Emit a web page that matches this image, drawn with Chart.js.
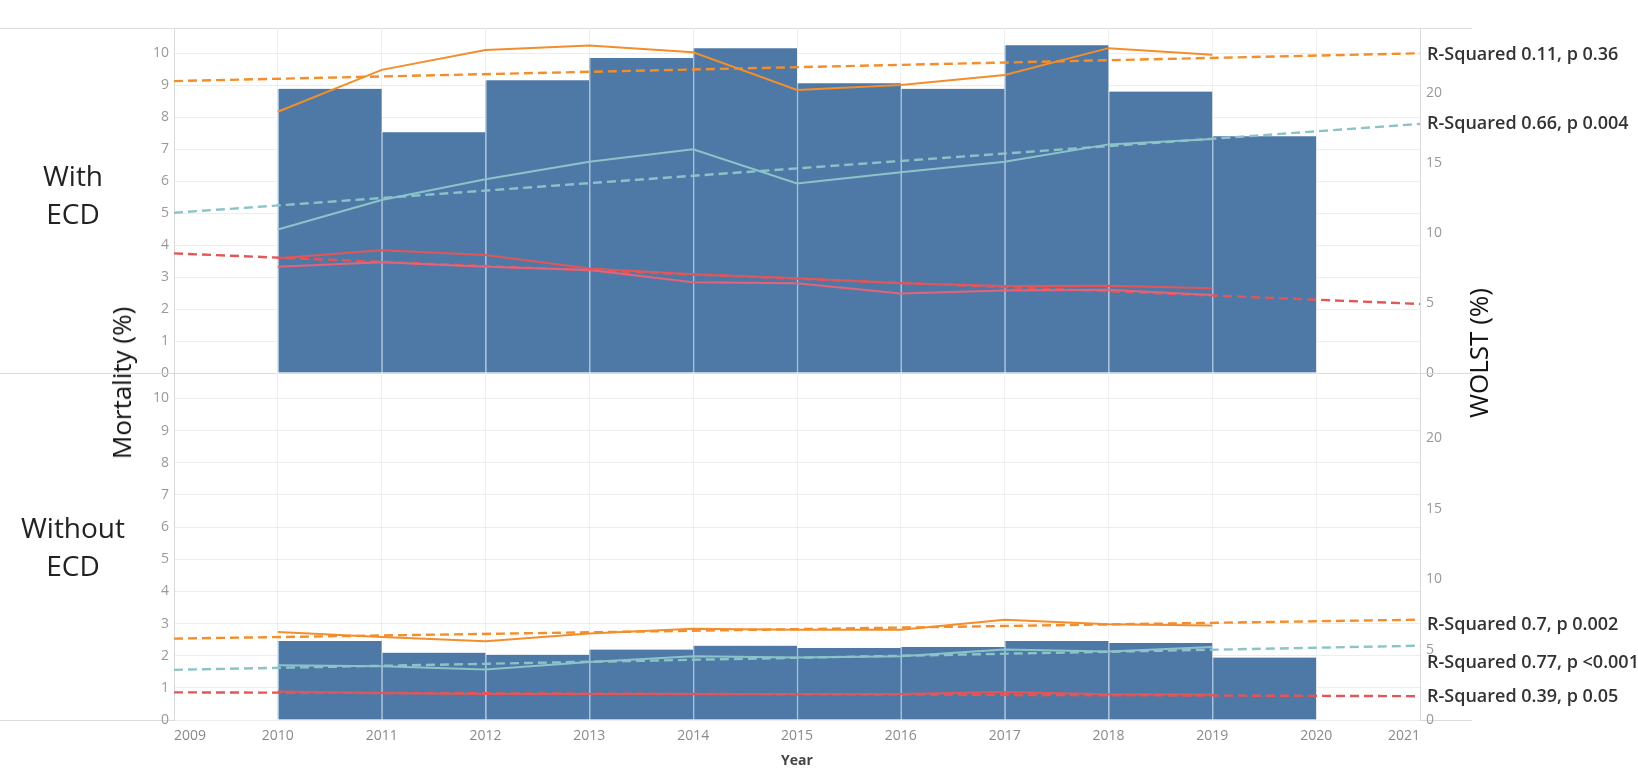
<!DOCTYPE html>
<html>
<head>
<meta charset="utf-8">
<script src="https://cdn.jsdelivr.net/npm/chart.js@4.4.0/dist/chart.umd.min.js"></script>
<style>
    body { margin: 0; background: #fff; width: 1638px; height: 772px; overflow: hidden; position: relative; font-family: 'Open Sans', sans-serif; }
    canvas { position: absolute; left: 0; }
    #topChart { top: 0; }
    #bottomChart { top: 358px; }
    .panel-label { position: absolute; left: -2px; width: 150px; text-align: center; font-size: 28px; line-height: 38px; color: #222; }
    .axis-title { position: absolute; font-size: 26px; color: #111; white-space: nowrap; transform: translate(-50%, -50%) rotate(-90deg); }
</style>
</head>
<body>
<canvas id="topChart" width="1638" height="388"></canvas>
<canvas id="bottomChart" width="1638" height="414"></canvas>
<div class="panel-label" style="top:156px">With<br>ECD</div>
<div class="panel-label" style="top:508px">Without<br>ECD</div>
<div class="axis-title" style="left:121px; top:383px">Mortality (%)</div>
<div class="axis-title" style="left:1478px; top:353px">WOLST (%)</div>
<script>
const years = [2010, 2011, 2012, 2013, 2014, 2015, 2016, 2017, 2018, 2019];
const trendYears = [2009, 2021];
const xTicks = [2009, 2010, 2011, 2012, 2013, 2014, 2015, 2016, 2017, 2018, 2019, 2020, 2021];
const mortalityTicks = [0, 1, 2, 3, 4, 5, 6, 7, 8, 9, 10];
const wolstTicks = [0, 5, 10, 15, 20];

// With ECD
const wolstWith = [20.3, 17.2, 20.9, 22.5, 23.2, 20.7, 20.3, 23.4, 20.1, 16.9];
const orangeWith = [8.17, 9.48, 10.10, 10.24, 10.03, 8.85, 9.01, 9.32, 10.16, 9.95];
const orangeWithTrend = [9.13, 10.0];
const tealWith = [4.49, 5.41, 6.06, 6.61, 7.0, 5.93, 6.28, 6.61, 7.15, 7.32];
const tealWithTrend = [5.01, 7.79];
const redWith = [3.59, 3.84, 3.69, 3.27, 3.09, 2.96, 2.81, 2.72, 2.73, 2.65];
const pinkWith = [3.32, 3.46, 3.32, 3.22, 2.84, 2.81, 2.49, 2.58, 2.60, 2.44];
const redWithTrend = [3.74, 2.16];

// Without ECD
const wolstWithout = [5.61, 4.78, 4.64, 5.0, 5.28, 5.11, 5.18, 5.61, 5.47, 4.43];
const orangeWithout = [2.74, 2.58, 2.45, 2.69, 2.84, 2.81, 2.81, 3.12, 2.98, 2.94];
const orangeWithoutTrend = [2.53, 3.12];
const tealWithout = [1.70, 1.67, 1.57, 1.80, 1.98, 1.94, 1.98, 2.19, 2.13, 2.27];
const tealWithoutTrend = [1.56, 2.31];
const redWithout = [0.89, 0.84, 0.81, 0.81, 0.81, 0.81, 0.81, 0.87, 0.80, 0.79];
const redWithoutTrend = [0.86, 0.74];

const COLORS = {
    bar: '#4e79a7',
    barEdge: '#a5c0da',
    orange: '#f28e2b',
    teal: '#8cc3c8',
    red: '#e15759',
    pink: '#e4637a'
};

// the y tick labels reserve ~15px above/below the plot, the canvases overlap by that much
const LABEL_ROOM = 15;

function toPoints(xs, ys) {
    return xs.map((x, i) => ({ x: x, y: ys[i] }));
}

function barSet(values) {
    return {
        type: 'bar',
        data: toPoints(years.map(y => y + 0.5), values),
        yAxisID: 'yR',
        backgroundColor: COLORS.bar,
        borderColor: COLORS.barEdge,
        borderWidth: { top: 0, right: 0, bottom: 0, left: 1.5 },
        barPercentage: 1,
        categoryPercentage: 1,
        order: 5
    };
}

function lineSet(values, color) {
    return {
        type: 'line',
        data: toPoints(years, values),
        yAxisID: 'yL',
        borderColor: color,
        borderWidth: 2,
        pointRadius: 0,
        tension: 0,
        order: 1
    };
}

function trendSet(values, color, label, shift) {
    return {
        type: 'line',
        data: toPoints(trendYears, values),
        yAxisID: 'yL',
        borderColor: color,
        borderWidth: 2.4,
        borderDash: [9, 5],
        pointRadius: 0,
        order: 2,
        rLabel: label,
        labelShift: shift || 0
    };
}

const panelDecor = {
    id: 'panelDecor',
    beforeDraw(chart) {
        const { ctx, chartArea } = chart;
        ctx.save();
        ctx.strokeStyle = '#dcdcdc';
        ctx.lineWidth = 1;
        [chartArea.top, chartArea.bottom].forEach(y => {
            ctx.beginPath();
            ctx.moveTo(0, Math.round(y) + 0.5);
            ctx.lineTo(chartArea.right + 52, Math.round(y) + 0.5);
            ctx.stroke();
        });
        ctx.restore();
    },
    afterDraw(chart) {
        const { ctx, chartArea } = chart;
        ctx.save();
        ctx.font = '600 18px "Open Sans"';
        ctx.fillStyle = '#333';
        ctx.textBaseline = 'middle';
        ctx.textAlign = 'left';
        chart.data.datasets.forEach(ds => {
            if (!ds.rLabel) return;
            const last = ds.data[ds.data.length - 1];
            const y = chart.scales.yL.getPixelForValue(last.y) + ds.labelShift;
            ctx.fillText(ds.rLabel, chartArea.right + 7, y);
        });
        ctx.restore();
    }
};

function drawPanel(canvasId, datasets, isBottom) {
    const ctx = document.getElementById(canvasId).getContext('2d');
    const tickFont = { family: 'Open Sans', size: 14 };
    return new Chart(ctx, {
        data: { datasets: datasets },
        options: {
            responsive: false,
            animation: false,
            layout: { padding: { top: isBottom ? LABEL_ROOM : 28, bottom: 0, left: 0, right: 0 } },
            plugins: { legend: { display: false }, tooltip: { enabled: false } },
            scales: {
                x: {
                    type: 'linear',
                    min: 2009,
                    max: 2021,
                    offset: false,
                    afterBuildTicks: s => { s.ticks = xTicks.map(v => ({ value: v })); },
                    afterFit: s => { s.height = isBottom ? 52 : LABEL_ROOM; },
                    grid: { color: '#efefef', drawTicks: false, offset: false },
                    border: { display: false },
                    ticks: { display: isBottom, align: 'inner', color: '#8a8a8a', font: tickFont, padding: 8, callback: v => String(v) },
                    title: { display: isBottom, text: 'Year', color: '#444', font: { family: 'Open Sans', size: 14, weight: 'bold' }, padding: { top: 0, bottom: 3 } }
                },
                yL: {
                    position: 'left',
                    min: 0,
                    max: 10.79,
                    afterBuildTicks: s => { s.ticks = mortalityTicks.map(v => ({ value: v })); },
                    afterFit: s => { s.width = 174; },
                    grid: { color: '#ededed', drawTicks: false },
                    border: { color: '#dadada' },
                    ticks: { color: '#999', font: tickFont, padding: 5 }
                },
                yR: {
                    position: 'right',
                    min: 0,
                    max: 24.64,
                    afterBuildTicks: s => { s.ticks = wolstTicks.map(v => ({ value: v })); },
                    afterFit: s => { s.width = 218; },
                    grid: { drawOnChartArea: false, drawTicks: false },
                    border: { color: '#dadada' },
                    ticks: { color: '#999', font: tickFont, padding: 6 }
                }
            }
        },
        plugins: [panelDecor]
    });
}

drawPanel('topChart', [
    barSet(wolstWith),
    lineSet(orangeWith, COLORS.orange),
    lineSet(tealWith, COLORS.teal),
    lineSet(redWith, COLORS.red),
    lineSet(pinkWith, COLORS.pink),
    trendSet(orangeWithTrend, COLORS.orange, 'R-Squared 0.11, p 0.36', 2),
    trendSet(tealWithTrend, COLORS.teal, 'R-Squared 0.66, p 0.004', 0),
    trendSet(redWithTrend, COLORS.red, null)
], false);

drawPanel('bottomChart', [
    barSet(wolstWithout),
    lineSet(orangeWithout, COLORS.orange),
    lineSet(tealWithout, COLORS.teal),
    lineSet(redWithout, COLORS.red),
    trendSet(orangeWithoutTrend, COLORS.orange, 'R-Squared 0.7, p 0.002', 5),
    trendSet(tealWithoutTrend, COLORS.teal, 'R-Squared 0.77, p <0.001', 17),
    trendSet(redWithoutTrend, COLORS.red, 'R-Squared 0.39, p 0.05', 1)
], true);
</script>
</body>
</html>
